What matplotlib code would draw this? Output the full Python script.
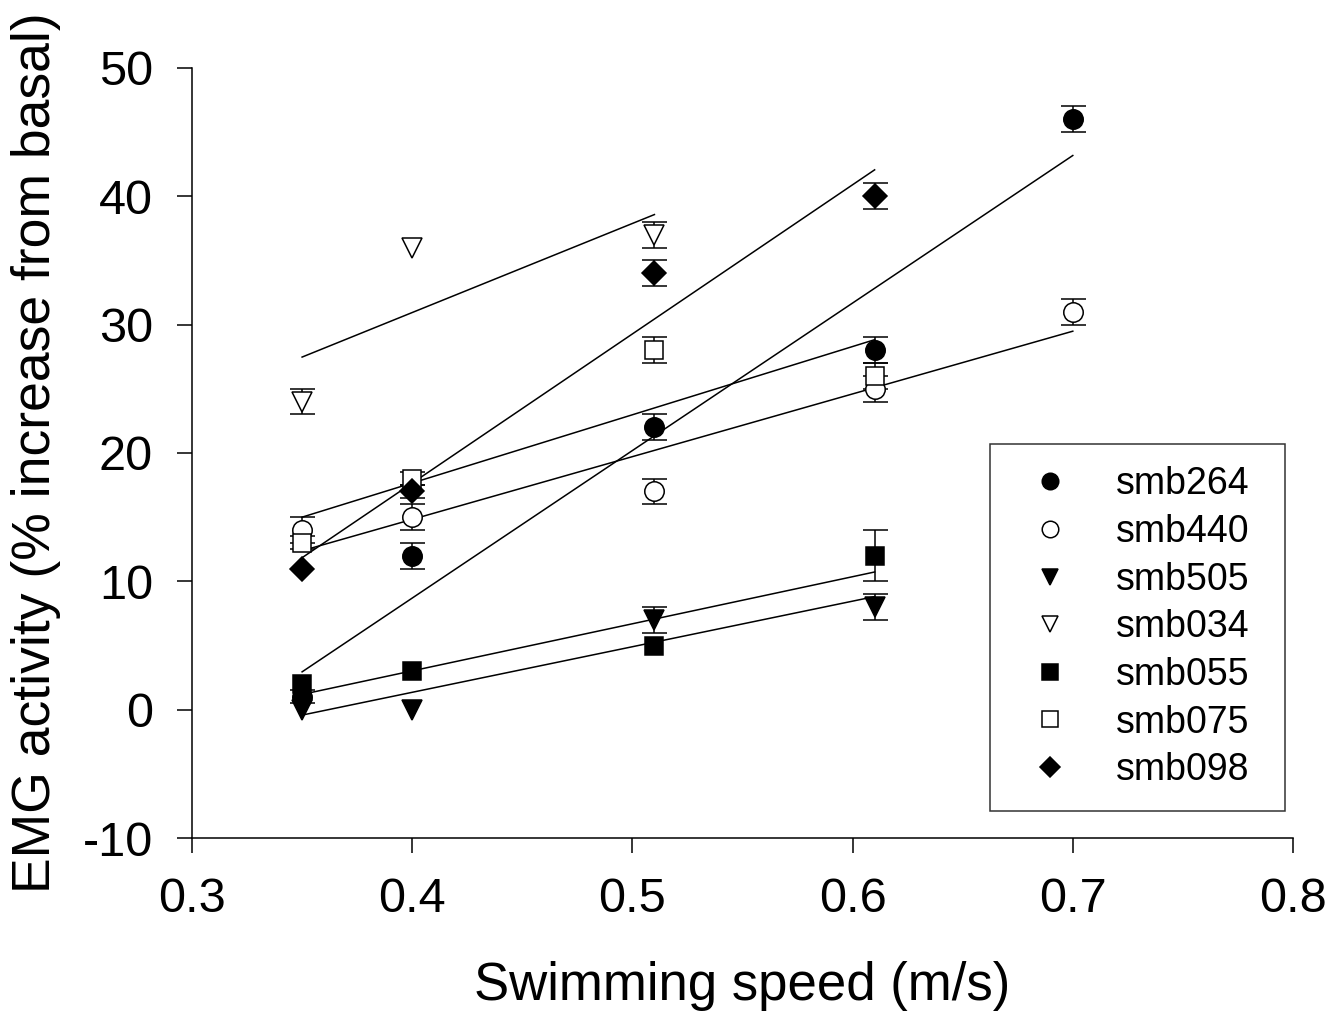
import numpy as np
import matplotlib
matplotlib.use("Agg")
import matplotlib.pyplot as plt

plt.rcParams['font.family'] = ['Liberation Sans', 'DejaVu Sans']

series_names = ["smb264", "smb440", "smb505", "smb034", "smb055", "smb075", "smb098"]

x_smb264 = [0.35, 0.40, 0.51, 0.61, 0.70]
y_smb264 = [1, 12, 22, 28, 46]
e_smb264 = [0.5, 1, 1, 1, 1]

x_smb440 = [0.35, 0.40, 0.51, 0.61, 0.70]
y_smb440 = [14, 15, 17, 25, 31]
e_smb440 = [1, 1, 1, 1, 1]

x_smb505 = [0.35, 0.40, 0.51, 0.61]
y_smb505 = [0, 0, 7, 8]
e_smb505 = [0, 0, 1, 1]

x_smb034 = [0.35, 0.40, 0.51]
y_smb034 = [24, 36, 37]
e_smb034 = [1, 0, 1]

x_smb055 = [0.35, 0.40, 0.51, 0.61]
y_smb055 = [2, 3, 5, 12]
e_smb055 = [0, 0, 0, 2]

x_smb075 = [0.35, 0.40, 0.51, 0.61]
y_smb075 = [13, 18, 28, 26]
e_smb075 = [0.5, 0.5, 1, 1]

x_smb098 = [0.35, 0.40, 0.51, 0.61]
y_smb098 = [11, 17, 34, 40]
e_smb098 = [0, 0.5, 1, 1]

xs = [x_smb264, x_smb440, x_smb505, x_smb034, x_smb055, x_smb075, x_smb098]
ys = [y_smb264, y_smb440, y_smb505, y_smb034, y_smb055, y_smb075, y_smb098]
es = [e_smb264, e_smb440, e_smb505, e_smb034, e_smb055, e_smb075, e_smb098]
markers = ["o", "o", "v", "v", "s", "s", "D"]
filled = [True, False, True, False, True, False, True]
msizes = [14, 14, 14, 14, 13, 13, 12]

fig = plt.figure(figsize=(13.39, 10.15), dpi=100)
ax = fig.add_axes([192/1339, 1 - 838/1015, (1293-192)/1339, (838-68)/1015])

for x, y, e, m, f, ms, name in zip(xs, ys, es, markers, filled, msizes, series_names):
    x = np.array(x); y = np.array(y); e = np.array(e, dtype=float)
    k, b = np.polyfit(x, y, 1)
    xl = np.array([x.min(), x.max()])
    ax.plot(xl, k * xl + b, color='black', lw=1.1, zorder=1)
    nz = e > 0
    if nz.any():
        ax.errorbar(x[nz], y[nz], yerr=e[nz], fmt='none', ecolor='black', elinewidth=1.1,
                    capsize=9, capthick=1.1, zorder=2)
    ax.plot(x, y, linestyle='none', marker=m, markersize=ms,
            markerfacecolor='black' if f else 'white', markeredgecolor='black',
            markeredgewidth=1.1, zorder=3, label=name)

ax.set_xlim(0.3, 0.8)
ax.set_ylim(-10, 50)
ax.set_xticks([0.3, 0.4, 0.5, 0.6, 0.7, 0.8])
ax.set_yticks([-10, 0, 10, 20, 30, 40, 50])
ax.set_xticklabels(["0.3", "0.4", "0.5", "0.6", "0.7", "0.8"])
ax.set_yticklabels(["-10", "0", "10", "20", "30", "40", "50"])
for s in ['top', 'right']:
    ax.spines[s].set_visible(False)
for s in ['left', 'bottom']:
    ax.spines[s].set_linewidth(1.1)
ax.tick_params(axis='both', direction='out', length=11, width=1.1, labelsize=35, pad=17)

ax.set_xlabel("Swimming speed (m/s)", fontsize=38, labelpad=28)
ax.set_ylabel("EMG activity (% increase from basal)", fontsize=38.5, labelpad=16)

handles, labels = ax.get_legend_handles_labels()
leg = ax.legend(handles, labels, loc='upper left', bbox_to_anchor=(0.725, 0.5117, 0.268, 0.0),
                mode='expand', fontsize=27, frameon=True, fancybox=False,
                edgecolor='black', markerscale=0.85, labelspacing=0.31,
                handletextpad=0.76, borderpad=0.6, borderaxespad=0, handlelength=2.0)
leg.get_frame().set_linewidth(1.1)

fig.savefig("out.png", dpi=100)
